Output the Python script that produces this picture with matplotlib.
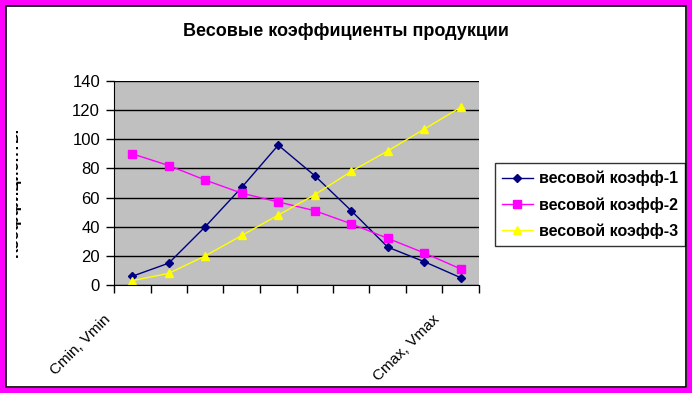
import matplotlib.pyplot as plt
from matplotlib.patches import Rectangle

plt.rcParams['font.family'] = ['Liberation Sans', 'DejaVu Sans']

# данные
categories = ['Cmin, Vmin', '', '', '', '', '', '', '', '', 'Cmax, Vmax']
coef1 = [6, 15, 40, 67, 96, 75, 51, 26, 16, 5]
coef2 = [90, 82, 72, 63, 57, 51, 42, 32, 22, 11]
coef3 = [3, 8, 20, 34, 48, 62, 78, 92, 107, 122]
series_names = ['весовой коэфф-1', 'весовой коэфф-2', 'весовой коэфф-3']

W, H = 692, 393
fig = plt.figure(figsize=(W / 100, H / 100), dpi=100)
fig.patch.set_facecolor('white')

ax = fig.add_axes([114 / W, (H - 285) / H, (479 - 114) / W, (285 - 81) / H])
ax.set_facecolor('#C0C0C0')

x = list(range(1, len(categories) + 1))
ax.plot(x, coef1, color='#000080', marker='D', markersize=4.5, lw=1, label=series_names[0])
ax.plot(x, coef2, color='#FF00FF', marker='s', markersize=6, lw=1, label=series_names[1])
ax.plot(x, coef3, color='#FFFF00', marker='^', markersize=6, lw=1, label=series_names[2])

ax.set_xlim(0.5, len(categories) + 0.5)
ax.set_ylim(0, 140)
ax.set_yticks(range(0, 141, 20))
ax.yaxis.grid(True, color='black', lw=1)
ax.set_axisbelow(True)

# деления между категориями
ax.set_xticks([i + 0.5 for i in range(0, len(categories) + 1)])
ax.set_xticklabels([])
ax.tick_params(axis='x', which='major', length=6, width=1, direction='out')
ax.tick_params(axis='y', length=6, width=1, labelsize=12, pad=4)

# подписи категорий (наклонные, смещены влево как в Excel)
for xi, name in zip(x, categories):
    if name:
        ax.annotate(name, xy=(xi, 0), xycoords=('data', 'axes fraction'),
                    xytext=(-20.5, -20), textcoords='offset points',
                    rotation=45, ha='right', va='top', rotation_mode='anchor',
                    fontsize=11, annotation_clip=False)

for s in ['top', 'right']:
    ax.spines[s].set_visible(False)
ax.spines['left'].set_color('black')
ax.spines['bottom'].set_color('black')

fig.text(346 / W, 1 - 31 / H, 'Весовые коэффициенты продукции',
         ha='center', va='center', fontsize=13, fontweight='bold')

# подпись оси Y (обрезана слева, как в оригинале)
fig.text(21 / W, 1 - 192 / H, 'Коэффициенты', rotation=90,
         ha='right', va='center', fontsize=12, fontweight='bold')
fig.add_artist(Rectangle((0, 0), 16 / W, 1, transform=fig.transFigure,
                         facecolor='white', edgecolor='none', zorder=10))

leg = fig.legend(loc='upper left', bbox_to_anchor=(495 / W, 1 - 163 / H),
                 frameon=True, fancybox=False,
                 prop={'size': 11.5, 'weight': 'bold'}, handlelength=1.9,
                 borderpad=0.45, labelspacing=0.65, handletextpad=0.4,
                 borderaxespad=0)
leg.get_frame().set_edgecolor('black')
leg.get_frame().set_linewidth(1)

# рамка
fig.add_artist(Rectangle((0, 0), 1, 1, transform=fig.transFigure,
                         fill=False, edgecolor='#FF00FF', lw=8, zorder=11))
fig.add_artist(Rectangle((6 / W, 6 / H), 1 - 12 / W, 1 - 12 / H,
                         transform=fig.transFigure, fill=False,
                         edgecolor='black', lw=1.2, zorder=12))

fig.savefig('out.png', dpi=100, facecolor='white')
